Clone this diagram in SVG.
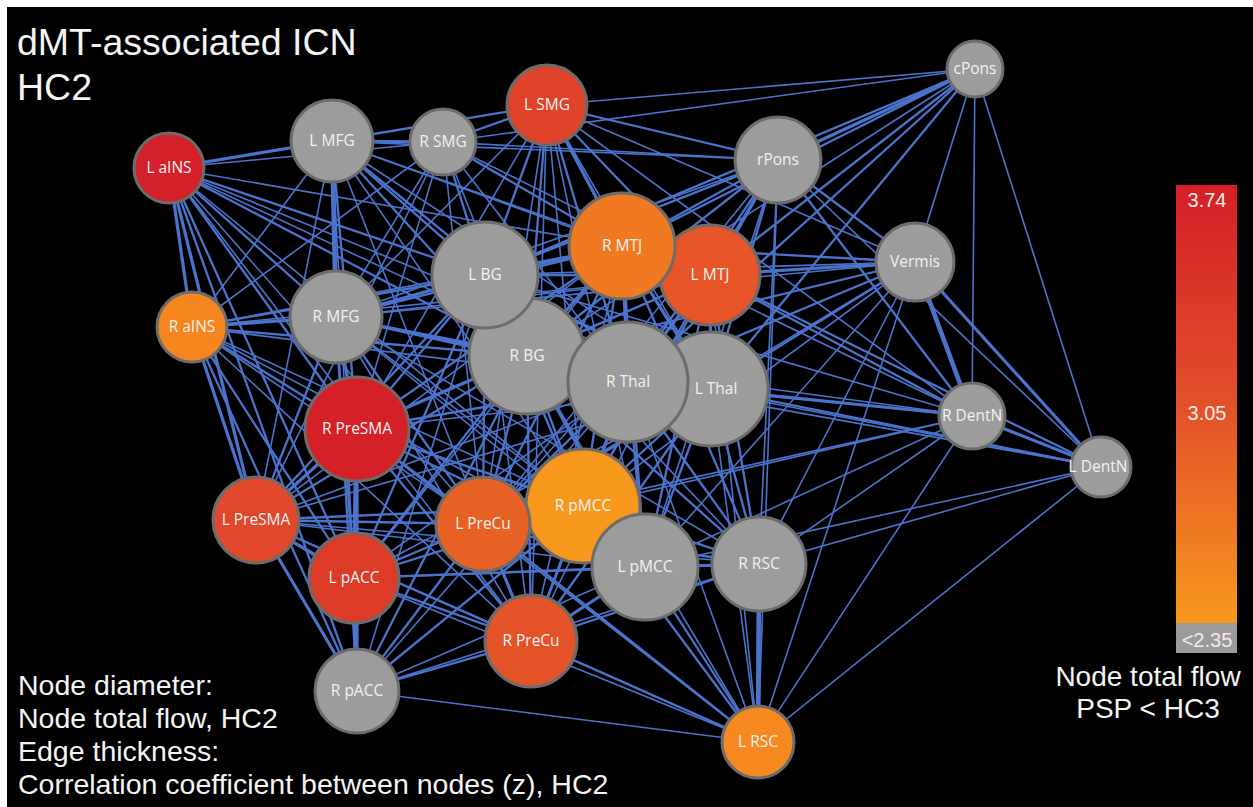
<svg xmlns="http://www.w3.org/2000/svg" width="1253" height="807" viewBox="0 0 1253 807">
<defs>
<linearGradient id="cbar" x1="0" y1="0" x2="0" y2="1">
<stop offset="0" stop-color="#d41f28"/>
<stop offset="0.5" stop-color="#e2502a"/>
<stop offset="1" stop-color="#f7981d"/>
</linearGradient>
</defs>
<style>
.bg{fill:#000}
#edges line{stroke:#4b73cb;stroke-linecap:round}
.e1{stroke-width:1.6}
.e2{stroke-width:2.3}
.e3{stroke-width:3.2}
.e4{stroke-width:4.6}
.node circle{stroke:#6c6c6c;stroke-width:3}
.g{fill:#9c9c9c}
.node text{font-family:"Open Sans","DejaVu Sans",sans-serif;font-size:15.5px;fill:#f2f2f2;text-anchor:middle}
.big{font-family:"Liberation Sans",Arial,sans-serif;fill:#f4f4f4}
.cb{font-family:"Liberation Sans",Arial,sans-serif;font-size:20px;fill:#f6ebe6;text-anchor:middle}
</style>
<rect x="0" y="0" width="1253" height="807" fill="#fff"/>
<rect class="bg" x="7" y="7" width="1246" height="800"/>
<g id="edges">
<line class="e3" x1="169" y1="168" x2="332" y2="141"/>
<line class="e1" x1="169" y1="168" x2="443" y2="142"/>
<line class="e3" x1="169" y1="168" x2="192" y2="327"/>
<line class="e3" x1="169" y1="168" x2="256" y2="520"/>
<line class="e2" x1="169" y1="168" x2="354" y2="578"/>
<line class="e2" x1="169" y1="168" x2="357" y2="691"/>
<line class="e2" x1="169" y1="168" x2="336" y2="317"/>
<line class="e2" x1="169" y1="168" x2="485" y2="275"/>
<line class="e2" x1="169" y1="168" x2="527" y2="356"/>
<line class="e1" x1="169" y1="168" x2="628" y2="382"/>
<line class="e1" x1="169" y1="168" x2="711" y2="389"/>
<line class="e2" x1="169" y1="168" x2="357" y2="429"/>
<line class="e1" x1="169" y1="168" x2="483" y2="524"/>
<line class="e1" x1="169" y1="168" x2="583" y2="506"/>
<line class="e1" x1="169" y1="168" x2="622" y2="246"/>
<line class="e1" x1="169" y1="168" x2="531" y2="641"/>
<line class="e3" x1="332" y1="141" x2="443" y2="142"/>
<line class="e2" x1="332" y1="141" x2="547" y2="105"/>
<line class="e4" x1="332" y1="141" x2="336" y2="317"/>
<line class="e2" x1="332" y1="141" x2="485" y2="275"/>
<line class="e2" x1="332" y1="141" x2="527" y2="356"/>
<line class="e2" x1="332" y1="141" x2="628" y2="382"/>
<line class="e1" x1="332" y1="141" x2="711" y2="389"/>
<line class="e1" x1="332" y1="141" x2="622" y2="246"/>
<line class="e1" x1="332" y1="141" x2="710" y2="275"/>
<line class="e2" x1="332" y1="141" x2="357" y2="429"/>
<line class="e1" x1="332" y1="141" x2="256" y2="520"/>
<line class="e1" x1="332" y1="141" x2="192" y2="327"/>
<line class="e1" x1="332" y1="141" x2="483" y2="524"/>
<line class="e1" x1="332" y1="141" x2="583" y2="506"/>
<line class="e1" x1="332" y1="141" x2="354" y2="578"/>
<line class="e1" x1="332" y1="141" x2="778" y2="160"/>
<line class="e2" x1="443" y1="142" x2="547" y2="105"/>
<line class="e2" x1="443" y1="142" x2="485" y2="275"/>
<line class="e1" x1="443" y1="142" x2="527" y2="356"/>
<line class="e2" x1="443" y1="142" x2="622" y2="246"/>
<line class="e1" x1="443" y1="142" x2="710" y2="275"/>
<line class="e1" x1="443" y1="142" x2="628" y2="382"/>
<line class="e1" x1="443" y1="142" x2="336" y2="317"/>
<line class="e1" x1="443" y1="142" x2="357" y2="429"/>
<line class="e1" x1="443" y1="142" x2="256" y2="520"/>
<line class="e1" x1="443" y1="142" x2="778" y2="160"/>
<line class="e1" x1="443" y1="142" x2="483" y2="524"/>
<line class="e1" x1="443" y1="142" x2="192" y2="327"/>
<line class="e2" x1="547" y1="105" x2="485" y2="275"/>
<line class="e2" x1="547" y1="105" x2="527" y2="356"/>
<line class="e3" x1="547" y1="105" x2="622" y2="246"/>
<line class="e2" x1="547" y1="105" x2="710" y2="275"/>
<line class="e2" x1="547" y1="105" x2="628" y2="382"/>
<line class="e1" x1="547" y1="105" x2="711" y2="389"/>
<line class="e2" x1="547" y1="105" x2="778" y2="160"/>
<line class="e1" x1="547" y1="105" x2="915" y2="262"/>
<line class="e1" x1="547" y1="105" x2="336" y2="317"/>
<line class="e1" x1="547" y1="105" x2="357" y2="429"/>
<line class="e1" x1="547" y1="105" x2="483" y2="524"/>
<line class="e1" x1="547" y1="105" x2="583" y2="506"/>
<line class="e1" x1="547" y1="105" x2="645" y2="567"/>
<line class="e1" x1="547" y1="105" x2="972" y2="416"/>
<line class="e1" x1="547" y1="105" x2="531" y2="641"/>
<line class="e3" x1="778" y1="160" x2="975" y2="69"/>
<line class="e2" x1="778" y1="160" x2="622" y2="246"/>
<line class="e3" x1="778" y1="160" x2="710" y2="275"/>
<line class="e2" x1="778" y1="160" x2="485" y2="275"/>
<line class="e2" x1="778" y1="160" x2="527" y2="356"/>
<line class="e2" x1="778" y1="160" x2="628" y2="382"/>
<line class="e2" x1="778" y1="160" x2="711" y2="389"/>
<line class="e2" x1="778" y1="160" x2="915" y2="262"/>
<line class="e2" x1="778" y1="160" x2="972" y2="416"/>
<line class="e1" x1="778" y1="160" x2="1101" y2="467"/>
<line class="e1" x1="778" y1="160" x2="336" y2="317"/>
<line class="e1" x1="778" y1="160" x2="645" y2="567"/>
<line class="e1" x1="778" y1="160" x2="759" y2="564"/>
<line class="e1" x1="778" y1="160" x2="758" y2="742"/>
<line class="e1" x1="778" y1="160" x2="583" y2="506"/>
<line class="e1" x1="778" y1="160" x2="483" y2="524"/>
<line class="e2" x1="975" y1="69" x2="710" y2="275"/>
<line class="e2" x1="975" y1="69" x2="622" y2="246"/>
<line class="e2" x1="975" y1="69" x2="485" y2="275"/>
<line class="e1" x1="975" y1="69" x2="527" y2="356"/>
<line class="e2" x1="975" y1="69" x2="628" y2="382"/>
<line class="e2" x1="975" y1="69" x2="711" y2="389"/>
<line class="e1" x1="975" y1="69" x2="915" y2="262"/>
<line class="e1" x1="975" y1="69" x2="972" y2="416"/>
<line class="e1" x1="975" y1="69" x2="1101" y2="467"/>
<line class="e1" x1="975" y1="69" x2="547" y2="105"/>
<line class="e1" x1="975" y1="69" x2="443" y2="142"/>
<line class="e3" x1="915" y1="262" x2="710" y2="275"/>
<line class="e2" x1="915" y1="262" x2="622" y2="246"/>
<line class="e2" x1="915" y1="262" x2="711" y2="389"/>
<line class="e2" x1="915" y1="262" x2="628" y2="382"/>
<line class="e2" x1="915" y1="262" x2="527" y2="356"/>
<line class="e1" x1="915" y1="262" x2="485" y2="275"/>
<line class="e4" x1="915" y1="262" x2="972" y2="416"/>
<line class="e3" x1="915" y1="262" x2="1101" y2="467"/>
<line class="e1" x1="915" y1="262" x2="645" y2="567"/>
<line class="e1" x1="915" y1="262" x2="759" y2="564"/>
<line class="e1" x1="915" y1="262" x2="583" y2="506"/>
<line class="e1" x1="915" y1="262" x2="483" y2="524"/>
<line class="e1" x1="915" y1="262" x2="336" y2="317"/>
<line class="e1" x1="915" y1="262" x2="758" y2="742"/>
<line class="e3" x1="972" y1="416" x2="1101" y2="467"/>
<line class="e2" x1="972" y1="416" x2="711" y2="389"/>
<line class="e2" x1="972" y1="416" x2="628" y2="382"/>
<line class="e1" x1="972" y1="416" x2="527" y2="356"/>
<line class="e2" x1="972" y1="416" x2="710" y2="275"/>
<line class="e1" x1="972" y1="416" x2="622" y2="246"/>
<line class="e1" x1="972" y1="416" x2="645" y2="567"/>
<line class="e1" x1="972" y1="416" x2="583" y2="506"/>
<line class="e1" x1="972" y1="416" x2="483" y2="524"/>
<line class="e1" x1="972" y1="416" x2="759" y2="564"/>
<line class="e1" x1="972" y1="416" x2="485" y2="275"/>
<line class="e1" x1="972" y1="416" x2="758" y2="742"/>
<line class="e2" x1="1101" y1="467" x2="711" y2="389"/>
<line class="e1" x1="1101" y1="467" x2="628" y2="382"/>
<line class="e2" x1="1101" y1="467" x2="710" y2="275"/>
<line class="e1" x1="1101" y1="467" x2="759" y2="564"/>
<line class="e1" x1="1101" y1="467" x2="758" y2="742"/>
<line class="e1" x1="1101" y1="467" x2="645" y2="567"/>
<line class="e1" x1="1101" y1="467" x2="527" y2="356"/>
<line class="e4" x1="622" y1="246" x2="710" y2="275"/>
<line class="e3" x1="622" y1="246" x2="485" y2="275"/>
<line class="e3" x1="622" y1="246" x2="527" y2="356"/>
<line class="e3" x1="622" y1="246" x2="628" y2="382"/>
<line class="e3" x1="622" y1="246" x2="711" y2="389"/>
<line class="e2" x1="622" y1="246" x2="583" y2="506"/>
<line class="e2" x1="622" y1="246" x2="645" y2="567"/>
<line class="e2" x1="622" y1="246" x2="483" y2="524"/>
<line class="e1" x1="622" y1="246" x2="531" y2="641"/>
<line class="e2" x1="622" y1="246" x2="759" y2="564"/>
<line class="e2" x1="622" y1="246" x2="336" y2="317"/>
<line class="e2" x1="622" y1="246" x2="357" y2="429"/>
<line class="e1" x1="622" y1="246" x2="256" y2="520"/>
<line class="e1" x1="622" y1="246" x2="354" y2="578"/>
<line class="e1" x1="622" y1="246" x2="192" y2="327"/>
<line class="e2" x1="710" y1="275" x2="485" y2="275"/>
<line class="e2" x1="710" y1="275" x2="527" y2="356"/>
<line class="e3" x1="710" y1="275" x2="628" y2="382"/>
<line class="e3" x1="710" y1="275" x2="711" y2="389"/>
<line class="e2" x1="710" y1="275" x2="583" y2="506"/>
<line class="e2" x1="710" y1="275" x2="645" y2="567"/>
<line class="e2" x1="710" y1="275" x2="759" y2="564"/>
<line class="e1" x1="710" y1="275" x2="483" y2="524"/>
<line class="e1" x1="710" y1="275" x2="531" y2="641"/>
<line class="e1" x1="710" y1="275" x2="336" y2="317"/>
<line class="e1" x1="710" y1="275" x2="357" y2="429"/>
<line class="e1" x1="710" y1="275" x2="758" y2="742"/>
<line class="e1" x1="710" y1="275" x2="192" y2="327"/>
<line class="e4" x1="485" y1="275" x2="527" y2="356"/>
<line class="e3" x1="485" y1="275" x2="628" y2="382"/>
<line class="e3" x1="485" y1="275" x2="711" y2="389"/>
<line class="e3" x1="485" y1="275" x2="336" y2="317"/>
<line class="e2" x1="485" y1="275" x2="357" y2="429"/>
<line class="e2" x1="485" y1="275" x2="256" y2="520"/>
<line class="e2" x1="485" y1="275" x2="483" y2="524"/>
<line class="e2" x1="485" y1="275" x2="583" y2="506"/>
<line class="e2" x1="485" y1="275" x2="645" y2="567"/>
<line class="e1" x1="485" y1="275" x2="531" y2="641"/>
<line class="e2" x1="485" y1="275" x2="354" y2="578"/>
<line class="e1" x1="485" y1="275" x2="357" y2="691"/>
<line class="e2" x1="485" y1="275" x2="192" y2="327"/>
<line class="e1" x1="485" y1="275" x2="759" y2="564"/>
<line class="e4" x1="527" y1="356" x2="628" y2="382"/>
<line class="e3" x1="527" y1="356" x2="711" y2="389"/>
<line class="e3" x1="527" y1="356" x2="336" y2="317"/>
<line class="e3" x1="527" y1="356" x2="357" y2="429"/>
<line class="e2" x1="527" y1="356" x2="256" y2="520"/>
<line class="e2" x1="527" y1="356" x2="483" y2="524"/>
<line class="e2" x1="527" y1="356" x2="583" y2="506"/>
<line class="e2" x1="527" y1="356" x2="645" y2="567"/>
<line class="e2" x1="527" y1="356" x2="531" y2="641"/>
<line class="e2" x1="527" y1="356" x2="354" y2="578"/>
<line class="e2" x1="527" y1="356" x2="357" y2="691"/>
<line class="e2" x1="527" y1="356" x2="192" y2="327"/>
<line class="e2" x1="527" y1="356" x2="759" y2="564"/>
<line class="e1" x1="527" y1="356" x2="758" y2="742"/>
<line class="e4" x1="628" y1="382" x2="711" y2="389"/>
<line class="e3" x1="628" y1="382" x2="583" y2="506"/>
<line class="e2" x1="628" y1="382" x2="645" y2="567"/>
<line class="e2" x1="628" y1="382" x2="483" y2="524"/>
<line class="e2" x1="628" y1="382" x2="531" y2="641"/>
<line class="e2" x1="628" y1="382" x2="759" y2="564"/>
<line class="e2" x1="628" y1="382" x2="357" y2="429"/>
<line class="e1" x1="628" y1="382" x2="256" y2="520"/>
<line class="e1" x1="628" y1="382" x2="354" y2="578"/>
<line class="e2" x1="628" y1="382" x2="336" y2="317"/>
<line class="e1" x1="628" y1="382" x2="192" y2="327"/>
<line class="e1" x1="628" y1="382" x2="758" y2="742"/>
<line class="e1" x1="628" y1="382" x2="357" y2="691"/>
<line class="e2" x1="711" y1="389" x2="583" y2="506"/>
<line class="e2" x1="711" y1="389" x2="645" y2="567"/>
<line class="e2" x1="711" y1="389" x2="759" y2="564"/>
<line class="e2" x1="711" y1="389" x2="483" y2="524"/>
<line class="e2" x1="711" y1="389" x2="531" y2="641"/>
<line class="e1" x1="711" y1="389" x2="357" y2="429"/>
<line class="e1" x1="711" y1="389" x2="256" y2="520"/>
<line class="e1" x1="711" y1="389" x2="354" y2="578"/>
<line class="e1" x1="711" y1="389" x2="758" y2="742"/>
<line class="e1" x1="711" y1="389" x2="336" y2="317"/>
<line class="e3" x1="336" y1="317" x2="192" y2="327"/>
<line class="e3" x1="336" y1="317" x2="357" y2="429"/>
<line class="e2" x1="336" y1="317" x2="256" y2="520"/>
<line class="e2" x1="336" y1="317" x2="354" y2="578"/>
<line class="e2" x1="336" y1="317" x2="357" y2="691"/>
<line class="e2" x1="336" y1="317" x2="483" y2="524"/>
<line class="e1" x1="336" y1="317" x2="583" y2="506"/>
<line class="e1" x1="336" y1="317" x2="645" y2="567"/>
<line class="e1" x1="336" y1="317" x2="531" y2="641"/>
<line class="e1" x1="336" y1="317" x2="759" y2="564"/>
<line class="e3" x1="192" y1="327" x2="256" y2="520"/>
<line class="e2" x1="192" y1="327" x2="354" y2="578"/>
<line class="e2" x1="192" y1="327" x2="357" y2="691"/>
<line class="e2" x1="192" y1="327" x2="357" y2="429"/>
<line class="e1" x1="192" y1="327" x2="483" y2="524"/>
<line class="e1" x1="192" y1="327" x2="583" y2="506"/>
<line class="e1" x1="192" y1="327" x2="645" y2="567"/>
<line class="e1" x1="192" y1="327" x2="531" y2="641"/>
<line class="e3" x1="357" y1="429" x2="256" y2="520"/>
<line class="e4" x1="357" y1="429" x2="354" y2="578"/>
<line class="e3" x1="357" y1="429" x2="357" y2="691"/>
<line class="e2" x1="357" y1="429" x2="483" y2="524"/>
<line class="e2" x1="357" y1="429" x2="583" y2="506"/>
<line class="e2" x1="357" y1="429" x2="645" y2="567"/>
<line class="e2" x1="357" y1="429" x2="531" y2="641"/>
<line class="e1" x1="357" y1="429" x2="759" y2="564"/>
<line class="e1" x1="357" y1="429" x2="758" y2="742"/>
<line class="e3" x1="256" y1="520" x2="354" y2="578"/>
<line class="e3" x1="256" y1="520" x2="357" y2="691"/>
<line class="e2" x1="256" y1="520" x2="483" y2="524"/>
<line class="e2" x1="256" y1="520" x2="583" y2="506"/>
<line class="e1" x1="256" y1="520" x2="645" y2="567"/>
<line class="e2" x1="256" y1="520" x2="531" y2="641"/>
<line class="e1" x1="256" y1="520" x2="759" y2="564"/>
<line class="e1" x1="256" y1="520" x2="758" y2="742"/>
<line class="e4" x1="354" y1="578" x2="357" y2="691"/>
<line class="e2" x1="354" y1="578" x2="483" y2="524"/>
<line class="e2" x1="354" y1="578" x2="583" y2="506"/>
<line class="e2" x1="354" y1="578" x2="645" y2="567"/>
<line class="e2" x1="354" y1="578" x2="531" y2="641"/>
<line class="e1" x1="354" y1="578" x2="759" y2="564"/>
<line class="e1" x1="354" y1="578" x2="758" y2="742"/>
<line class="e3" x1="483" y1="524" x2="583" y2="506"/>
<line class="e2" x1="483" y1="524" x2="645" y2="567"/>
<line class="e3" x1="483" y1="524" x2="531" y2="641"/>
<line class="e2" x1="483" y1="524" x2="357" y2="691"/>
<line class="e2" x1="483" y1="524" x2="759" y2="564"/>
<line class="e2" x1="483" y1="524" x2="758" y2="742"/>
<line class="e4" x1="583" y1="506" x2="645" y2="567"/>
<line class="e2" x1="583" y1="506" x2="531" y2="641"/>
<line class="e2" x1="583" y1="506" x2="759" y2="564"/>
<line class="e2" x1="583" y1="506" x2="357" y2="691"/>
<line class="e2" x1="583" y1="506" x2="758" y2="742"/>
<line class="e3" x1="645" y1="567" x2="759" y2="564"/>
<line class="e3" x1="645" y1="567" x2="531" y2="641"/>
<line class="e2" x1="645" y1="567" x2="758" y2="742"/>
<line class="e1" x1="645" y1="567" x2="357" y2="691"/>
<line class="e4" x1="759" y1="564" x2="758" y2="742"/>
<line class="e2" x1="759" y1="564" x2="531" y2="641"/>
<line class="e1" x1="759" y1="564" x2="357" y2="691"/>
<line class="e2" x1="531" y1="641" x2="357" y2="691"/>
<line class="e2" x1="531" y1="641" x2="758" y2="742"/>
<line class="e1" x1="357" y1="691" x2="758" y2="742"/>
</g>
<g id="n-LaINS" class="node"><circle cx="169" cy="168" r="35" fill="#d3202a"/><text x="169" y="173">L aINS</text></g>
<g id="n-LMFG" class="node"><circle class="g" cx="332" cy="141" r="41"/><text x="332" y="146">L MFG</text></g>
<g id="n-RSMG" class="node"><circle class="g" cx="443" cy="142" r="33"/><text x="443" y="147">R SMG</text></g>
<g id="n-LSMG" class="node"><circle cx="547" cy="105" r="40" fill="#e0432a"/><text x="547" y="110">L SMG</text></g>
<g id="n-cPons" class="node"><circle class="g" cx="975" cy="69" r="28"/><text x="975" y="74">cPons</text></g>
<g id="n-rPons" class="node"><circle class="g" cx="778" cy="160" r="43"/><text x="778" y="165">rPons</text></g>
<g id="n-LMTJ" class="node"><circle cx="710" cy="275" r="50" fill="#e65427"/><text x="710" y="280">L MTJ</text></g>
<g id="n-RMTJ" class="node"><circle cx="622" cy="246" r="53" fill="#f07a22"/><text x="622" y="251">R MTJ</text></g>
<g id="n-Vermis" class="node"><circle class="g" cx="915" cy="262" r="39"/><text x="915" y="267">Vermis</text></g>
<g id="n-RBG" class="node"><circle class="g" cx="527" cy="356" r="58"/><text x="527" y="361">R BG</text></g>
<g id="n-LBG" class="node"><circle class="g" cx="485" cy="275" r="53"/><text x="485" y="280">L BG</text></g>
<g id="n-RMFG" class="node"><circle class="g" cx="336" cy="317" r="46"/><text x="336" y="322">R MFG</text></g>
<g id="n-RaINS" class="node"><circle cx="192" cy="327" r="35" fill="#f5861f"/><text x="192" y="332">R aINS</text></g>
<g id="n-LThal" class="node"><circle class="g" cx="711" cy="389" r="57"/><text x="716" y="394">L Thal</text></g>
<g id="n-RThal" class="node"><circle class="g" cx="628" cy="382" r="60"/><text x="628" y="387">R Thal</text></g>
<g id="n-RDentN" class="node"><circle class="g" cx="972" cy="416" r="33"/><text x="972" y="421">R DentN</text></g>
<g id="n-LDentN" class="node"><circle class="g" cx="1101" cy="467" r="30"/><text x="1098" y="472">L DentN</text></g>
<g id="n-RPreSMA" class="node"><circle cx="357" cy="429" r="52" fill="#d52027"/><text x="357" y="434">R PreSMA</text></g>
<g id="n-LPreSMA" class="node"><circle cx="256" cy="520" r="43" fill="#e1472a"/><text x="256" y="525">L PreSMA</text></g>
<g id="n-RpMCC" class="node"><circle cx="583" cy="506" r="57" fill="#f7981d"/><text x="583" y="511">R pMCC</text></g>
<g id="n-LPreCu" class="node"><circle cx="483" cy="524" r="47" fill="#e86124"/><text x="483" y="529">L PreCu</text></g>
<g id="n-LpMCC" class="node"><circle class="g" cx="645" cy="567" r="53"/><text x="645" y="572">L pMCC</text></g>
<g id="n-RRSC" class="node"><circle class="g" cx="759" cy="564" r="47"/><text x="759" y="569">R RSC</text></g>
<g id="n-LpACC" class="node"><circle cx="354" cy="578" r="45" fill="#dc3c27"/><text x="354" y="583">L pACC</text></g>
<g id="n-RPreCu" class="node"><circle cx="531" cy="641" r="46" fill="#e35327"/><text x="531" y="646">R PreCu</text></g>
<g id="n-RpACC" class="node"><circle class="g" cx="357" cy="691" r="42"/><text x="357" y="696">R pACC</text></g>
<g id="n-LRSC" class="node"><circle cx="758" cy="742" r="36" fill="#f5891f"/><text x="758" y="747">L RSC</text></g>
<g id="title" class="big" font-size="37.5">
<text x="17" y="55">dMT-associated ICN</text>
<text x="17" y="100">HC2</text>
</g>
<g id="legend" class="big" font-size="28.5">
<text x="18" y="695">Node diameter:</text>
<text x="18" y="728">Node total flow, HC2</text>
<text x="18" y="761">Edge thickness:</text>
<text x="18" y="794">Correlation coefficient between nodes (z), HC2</text>
</g>
<g id="colorbar">
<rect x="1176" y="185" width="61" height="438" fill="url(#cbar)"/>
<rect x="1176" y="623" width="61" height="30" fill="#9a9a9a"/>
<text class="cb" x="1207" y="207">3.74</text>
<text class="cb" x="1207" y="420">3.05</text>
<text class="cb" x="1207" y="647" fill="#f4f4f4">&lt;2.35</text>
<text class="big" x="1148" y="686" font-size="28" text-anchor="middle">Node total flow</text>
<text class="big" x="1148" y="718" font-size="28" text-anchor="middle">PSP &lt; HC3</text>
</g>
</svg>
